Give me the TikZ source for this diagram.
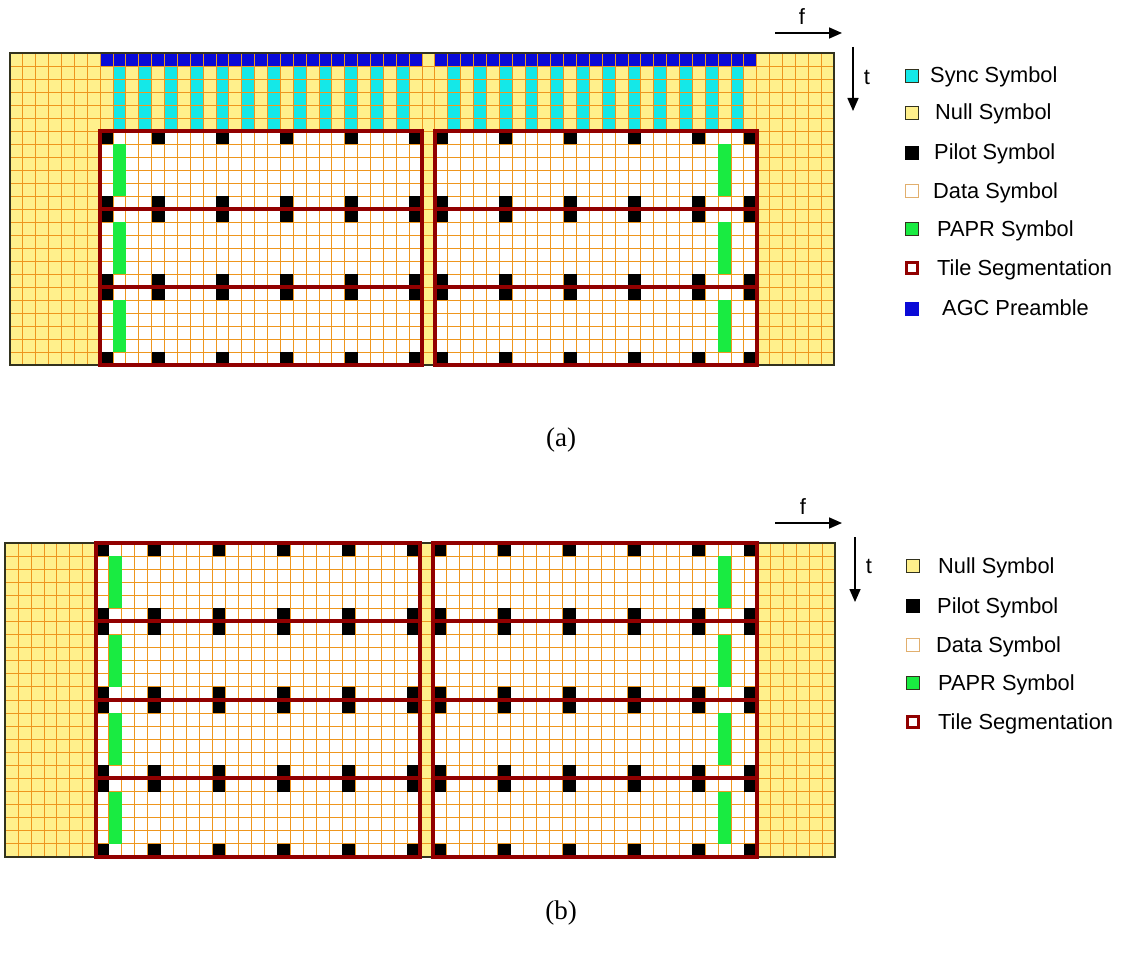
\documentclass[tikz,border=0pt]{standalone}
\usepackage{fontspec}
\setmainfont{Liberation Serif}
\newfontfamily\legfont{Liberation Sans}
\usetikzlibrary{arrows.meta}
\definecolor{nullY}{RGB}{255,240,140}
\definecolor{gridO}{RGB}{238,150,30}
\definecolor{syncC}{RGB}{20,232,232}
\definecolor{agcB}{RGB}{10,10,215}
\definecolor{paprG}{RGB}{25,235,65}
\definecolor{tileR}{RGB}{145,0,0}
\definecolor{borderD}{RGB}{50,50,30}
\definecolor{dataO}{RGB}{225,175,110}
\tikzset{
  gridline/.style={gridO, line width=0.8pt},
  tileframe/.style={tileR, line width=4pt, line join=miter},
  outerborder/.style={borderD, line width=1.6pt},
  legsq/.style={draw=borderD, line width=0.8pt, minimum size=13pt, inner sep=0pt, outer sep=0pt},
  legtxt/.style={anchor=base west, inner sep=0pt, font=\legfont\fontsize{21.8}{24}\selectfont},
  axisarrow/.style={line width=1.6pt, -{Triangle[length=13pt,width=11pt]}},
  axislab/.style={inner sep=0pt, font=\legfont\fontsize{22}{24}\selectfont},
  caption/.style={inner sep=0pt, font=\fontsize{27}{30}\selectfont}
}
\begin{document}
\begin{tikzpicture}[x=1pt, y=-1pt]
\useasboundingbox (0,0) rectangle (1123,957);
\fill[white] (0,0) rectangle (1123,957);

% ================= panel (a) =================
\begin{scope}[shift={(10,53)}, xscale=12.875, yscale=13]
  \fill[nullY] (0,0) rectangle (64,24);
  \fill[white] (7,6) rectangle (32,24);
  \fill[white] (33,6) rectangle (58,24);
  \fill[agcB] (7,0) rectangle (32,1);
  \fill[agcB] (33,0) rectangle (58,1);
  \foreach \c in {8,10,...,30,34,36,...,56} \fill[syncC] (\c,1) rectangle ++(1,5);
  \foreach \c in {0,...,64} \draw[gridline] (\c,0) -- (\c,24);
  \foreach \r in {0,...,24} \draw[gridline] (0,\r) -- (64,\r);
  \foreach \t in {0,1,2} {
    \foreach \r in {0,5} {
      \pgfmathtruncatemacro{\rr}{6+6*\t+\r}
      \foreach \c in {7,11,16,21,26,31,33,38,43,48,53,57}
        \fill[black] (\c,\rr) rectangle ++(1,1);
    }
    \pgfmathtruncatemacro{\gr}{7+6*\t}
    \fill[paprG] (8,\gr) rectangle ++(1,4);
    \fill[paprG] (55,\gr) rectangle ++(1,4);
  }
  \draw[outerborder] (0,0) rectangle (64,24);
  \foreach \t in {0,1,2} {
    \pgfmathtruncatemacro{\tr}{6+6*\t}
    \draw[tileframe] (7,\tr) rectangle ++(25,6);
    \draw[tileframe] (33,\tr) rectangle ++(25,6);
  }
\end{scope}

% axes (a)
\coordinate (fa1) at (775,33);
\coordinate (fa2) at (842,33);
\draw[axisarrow] (fa1) -- (fa2);
\node[axislab] (fla) at (802,17) {f};
\coordinate (ta1) at (853,47);
\coordinate (ta2) at (853,111);
\draw[axisarrow] (ta1) -- (ta2);
\node[axislab] (tla) at (867,77) {t};

% legend (a)
\node[legsq, fill=syncC] (sqa1) at (911.5,75.5) {};
\node[legtxt] (txa1) at (930,83) {Sync Symbol};
\node[legsq, fill=nullY] (sqa2) at (911.5,112.5) {};
\node[legtxt] (txa2) at (935,120) {Null Symbol};
\node[legsq, fill=black, draw=black] (sqa3) at (911.5,152.5) {};
\node[legtxt] (txa3) at (934,160) {Pilot Symbol};
\node[legsq, fill=white, draw=dataO] (sqa4) at (911.5,191) {};
\node[legtxt] (txa4) at (933,198.5) {Data Symbol};
\node[legsq, fill=paprG] (sqa5) at (911.5,229) {};
\node[legtxt] (txa5) at (937,236.5) {PAPR Symbol};
\node[legsq, fill=white, draw=tileR, line width=3pt, minimum size=11pt] (sqa6) at (911.5,268) {};
\node[legtxt] (txa6) at (937,275.5) {Tile Segmentation};
\node[legsq, fill=agcB, draw=agcB] (sqa7) at (911.5,308.5) {};
\node[legtxt] (txa7) at (942,316) {AGC Preamble};

\node[caption] (capa) at (561,440) {(a)};

% ================= panel (b) =================
\begin{scope}[shift={(5,543)}, xscale=12.97, yscale=13.08]
  \fill[nullY] (0,0) rectangle (64,24);
  \fill[white] (7,0) rectangle (32,24);
  \fill[white] (33,0) rectangle (58,24);
  \foreach \c in {0,...,64} \draw[gridline] (\c,0) -- (\c,24);
  \foreach \r in {0,...,24} \draw[gridline] (0,\r) -- (64,\r);
  \foreach \t in {0,1,2,3} {
    \foreach \r in {0,5} {
      \pgfmathtruncatemacro{\rr}{6*\t+\r}
      \foreach \c in {7,11,16,21,26,31,33,38,43,48,53,57}
        \fill[black] (\c,\rr) rectangle ++(1,1);
    }
    \pgfmathtruncatemacro{\gr}{1+6*\t}
    \fill[paprG] (8,\gr) rectangle ++(1,4);
    \fill[paprG] (55,\gr) rectangle ++(1,4);
  }
  \draw[outerborder] (0,0) rectangle (64,24);
  \foreach \t in {0,1,2,3} {
    \pgfmathtruncatemacro{\tr}{6*\t}
    \draw[tileframe] (7,\tr) rectangle ++(25,6);
    \draw[tileframe] (33,\tr) rectangle ++(25,6);
  }
\end{scope}

% axes (b)
\coordinate (fb1) at (775,523);
\coordinate (fb2) at (842,523);
\draw[axisarrow] (fb1) -- (fb2);
\node[axislab] (flb) at (803,507) {f};
\coordinate (tb1) at (855,537);
\coordinate (tb2) at (855,602);
\draw[axisarrow] (tb1) -- (tb2);
\node[axislab] (tlb) at (869,566) {t};

% legend (b)
\node[legsq, fill=nullY] (sqb1) at (913,566) {};
\node[legtxt] (txb1) at (938,573.5) {Null Symbol};
\node[legsq, fill=black, draw=black] (sqb2) at (913,606) {};
\node[legtxt] (txb2) at (937,613.5) {Pilot Symbol};
\node[legsq, fill=white, draw=dataO] (sqb3) at (913,645) {};
\node[legtxt] (txb3) at (936,652.5) {Data Symbol};
\node[legsq, fill=paprG] (sqb4) at (913,682.5) {};
\node[legtxt] (txb4) at (938,690) {PAPR Symbol};
\node[legsq, fill=white, draw=tileR, line width=3pt, minimum size=11pt] (sqb5) at (913,722) {};
\node[legtxt] (txb5) at (938,729.5) {Tile Segmentation};

\node[caption] (capb) at (561,913) {(b)};
\end{tikzpicture}
\end{document}
